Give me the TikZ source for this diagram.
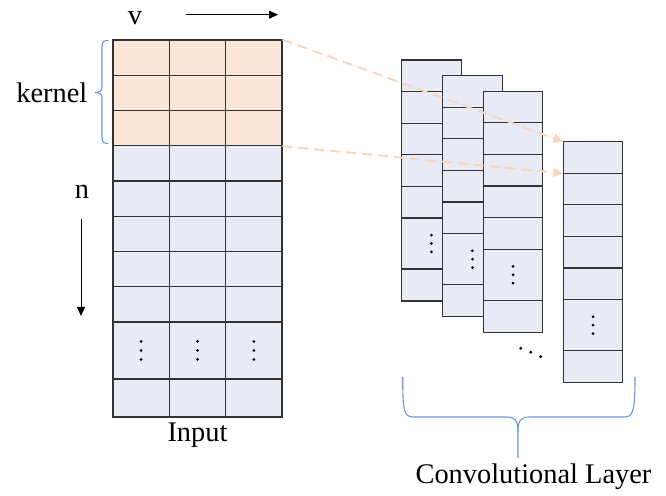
\documentclass[tikz,border=0pt]{standalone}
\usepackage{fontspec}
\setmainfont{Liberation Serif}
\usetikzlibrary{arrows.meta,positioning,fit}
\definecolor{cellblue}{HTML}{E8EAF5}
\definecolor{kernpeach}{HTML}{FBE5D6}
\definecolor{flowpeach}{HTML}{F9D6BE}
\definecolor{bracec}{HTML}{6A96DA}
\tikzset{
  gridcell/.style={draw=black!80, line width=0.6pt, fill=cellblue, inner sep=0pt, outer sep=0pt, anchor=north west},
  flowarr/.style={-{Triangle[length=5pt,width=4.5pt]}, draw=flowpeach, fill=flowpeach, line width=1pt, dash pattern=on 5pt off 3pt},
  dimarr/.style={-{Triangle[length=4.5pt,width=4pt]}, line width=0.5pt},
}

\begin{document}
\begin{tikzpicture}[
  x=0.5pt, y=-0.5pt,
  font=\fontsize{14.2}{16}\selectfont,
  incell/.style={gridcell, minimum width=28.17pt},
  fmcell/.style={gridcell, minimum width=29.75pt},
  bracket/.style={draw=bracec, line width=0.55pt},
]
  \useasboundingbox (0,0) rectangle (666,496);

  % input grid, kernel rows in peach
  \foreach \c in {0,1,2} {
    \foreach \r in {0,1,2}
      \node[incell, fill=kernpeach, minimum height=17.63pt] (in-\r-\c) at ({113+\c*56.33},{40+\r*35.25}) {};
    \foreach \r in {3,...,7}
      \node[incell, minimum height=17.63pt] (in-\r-\c) at ({113+\c*56.33},{40+\r*35.25}) {};
    \node[incell, minimum height=28.5pt] (in-8-\c) at ({113+\c*56.33},322) {};
    \node[incell, minimum height=19pt] (in-9-\c) at ({113+\c*56.33},379) {};
    \foreach \d in {-1,0,1}
      \fill ([yshift=\d*4.5pt]in-8-\c.center) circle[radius=0.75pt];
  }
  \node[fit=(in-0-0)(in-2-2), inner sep=0pt] (kern) {};
  \node[below=-0.5pt of in-9-1] (inlbl) {Input};

  % feature maps and output column
  \foreach \k/\x/\y in {fa/401.7/60, fb/442.7/75.7, fc/483.3/91.3, out/563.3/141.7} {
    \foreach \r in {0,...,4}
      \node[fmcell, minimum height=15.8pt] (\k-\r) at (\x,{\y+\r*31.6}) {};
    \node[fmcell, minimum height=25.5pt] (\k-5) at (\x,{\y+158}) {};
    \node[fmcell, minimum height=16pt] (\k-6) at (\x,{\y+209}) {};
    \foreach \d in {-1,0,1}
      \fill ([yshift=\d*4.2pt]\k-5.center) circle[radius=0.75pt];
  }
  \foreach \p in {(520.7,348.3),(530.7,352.3),(540.7,356.7)}
    \fill \p circle[radius=0.8pt];

  \draw[flowarr] (kern.north east) -- (out-0.north west);
  \draw[flowarr] (kern.south east) -- (out-0.south west);

  % kernel brace
  \coordinate (ktip) at (95,92.5);
  \draw[bracket] (108.5,40.5) .. controls (104,40.5) and (102,41.5) .. (102,46) -- (102,87)
    .. controls (102,91) and (100,92.5) .. (ktip);
  \draw[bracket] (ktip) .. controls (100,92.5) and (102,94) .. (102,98) -- (102,138)
    .. controls (102,142.5) and (104,143.5) .. (108.5,143.5);
  \node[left=0.3pt of ktip] (kernlbl) {kernel};

  % axis labels
  \node (vlbl) at (135,18) {v};
  \coordinate (va) at (185.7,14.7);
  \coordinate (vb) at (278,14.7);
  \draw[dimarr] (va) -- (vb);
  \node (nlbl) at (82,192) {n};
  \coordinate (na) at (81,219);
  \coordinate (nb) at (81,316);
  \draw[dimarr] (na) -- (nb);

  % layer brace
  \coordinate (btip) at (518,458);
  \draw[bracket] (402.7,377) .. controls (402.7,412) and (404,417) .. (414,417) -- (506,417)
    .. controls (515,417) and (518,420) .. (518,432) -- (btip);
  \draw[bracket] (518,432) .. controls (518,420) and (521,417) .. (530,417) -- (624,417)
    .. controls (633,417) and (635,412) .. (635,377);
  \node (convlbl) at (533.5,477) {Convolutional Layer};
\end{tikzpicture}
\end{document}
